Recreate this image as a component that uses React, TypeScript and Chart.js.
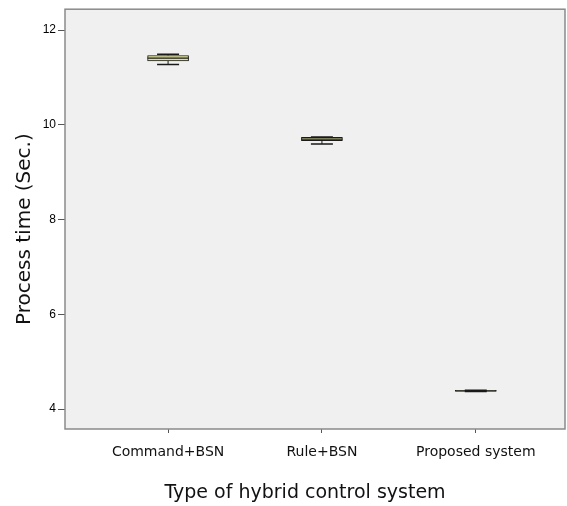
import React, { useEffect, useRef } from "react";
import { Chart, registerables } from "chart.js";

Chart.register(...registerables);

const categories = ["Command+BSN", "Rule+BSN", "Proposed system"];
const whiskerMin = [11.276, 9.595, 4.372];
const q1 = [11.35, 9.665, 4.376];
const median = [11.41, 9.7, 4.385];
const q3 = [11.465, 9.736, 4.394];
const whiskerMax = [11.49, 9.745, 4.398];
const yTicks = [4, 6, 8, 10, 12];
const xTitle = "Type of hybrid control system";
const yTitle = "Process time (Sec.)";

const FONT = "'DejaVu Sans', 'Liberation Sans', sans-serif";

const framePlugin = {
  id: "frame",
  beforeDraw(chart: any) {
    const { ctx, chartArea: a } = chart;
    ctx.save();
    ctx.fillStyle = "#ffffff";
    ctx.fillRect(0, 0, chart.width, chart.height);
    ctx.fillStyle = "#f0f0f0";
    ctx.fillRect(a.left, a.top, a.right - a.left, a.bottom - a.top);
    ctx.restore();
  },
  afterDraw(chart: any) {
    const { ctx, chartArea: a } = chart;
    ctx.save();
    ctx.strokeStyle = "#8a8a8a";
    ctx.lineWidth = 1.5;
    ctx.strokeRect(a.left, a.top, a.right - a.left, a.bottom - a.top);
    // axis titles
    ctx.fillStyle = "#111111";
    ctx.textAlign = "center";
    ctx.textBaseline = "middle";
    ctx.font = `19px ${FONT}`;
    ctx.fillText(xTitle, (a.left + a.right) / 2 - 10, chart.height - 13);
    ctx.translate(25, (a.top + a.bottom) / 2 + 10);
    ctx.rotate(-Math.PI / 2);
    ctx.font = `20px ${FONT}`;
    ctx.fillText(yTitle, 0, 0);
    ctx.restore();
  },
};

const boxPlugin = {
  id: "boxWhiskers",
  afterDatasetsDraw(chart: any) {
    const { ctx } = chart;
    const xs = chart.scales.x;
    const ys = chart.scales.y;
    const capHalf = 11;
    const boxHalf = 20.5;
    ctx.save();
    ctx.strokeStyle = "#1a1a1a";
    categories.forEach((_, i) => {
      const cx = xs.getPixelForValue(i + 1);
      const yMin = ys.getPixelForValue(whiskerMin[i]);
      const yMax = ys.getPixelForValue(whiskerMax[i]);
      const yQ1 = ys.getPixelForValue(q1[i]);
      const yQ3 = ys.getPixelForValue(q3[i]);
      const yMed = ys.getPixelForValue(median[i]);
      ctx.lineWidth = 1;
      ctx.beginPath();
      ctx.moveTo(cx, yQ1);
      ctx.lineTo(cx, yMin);
      ctx.moveTo(cx, yQ3);
      ctx.lineTo(cx, yMax);
      ctx.stroke();
      ctx.lineWidth = 1.5;
      ctx.beginPath();
      ctx.moveTo(cx - capHalf, yMin);
      ctx.lineTo(cx + capHalf, yMin);
      ctx.moveTo(cx - capHalf, yMax);
      ctx.lineTo(cx + capHalf, yMax);
      ctx.stroke();
      ctx.lineWidth = 1.2;
      ctx.beginPath();
      ctx.moveTo(cx - boxHalf, yMed);
      ctx.lineTo(cx + boxHalf, yMed);
      ctx.stroke();
    });
    ctx.restore();
  },
};

export default function App() {
  const ref = useRef<HTMLCanvasElement>(null);

  useEffect(() => {
    document.body.style.margin = "0";
    const canvas = ref.current;
    if (!canvas) return;
    const chart = new Chart(canvas, {
      type: "bar",
      data: {
        datasets: [
          {
            data: categories.map((_, i) => ({ x: i + 1, y: [q1[i], q3[i]] })) as any,
            backgroundColor: "#e0e09a",
            borderColor: "#1a1a1a",
            borderWidth: 1,
            borderSkipped: false,
            barThickness: 41,
          },
        ],
      },
      options: {
        animation: false,
        responsive: false,
        devicePixelRatio: 1,
        layout: { padding: { top: 9, right: 2, left: 0, bottom: 0 } },
        plugins: { legend: { display: false }, tooltip: { enabled: false } },
        scales: {
          x: {
            type: "linear",
            min: 0.33,
            max: 3.58,
            offset: false,
            border: { display: false },
            grid: {
              offset: false,
              drawOnChartArea: false,
              drawTicks: true,
              tickLength: 4,
              color: "#555555",
            },
            afterBuildTicks(scale: any) {
              scale.ticks = categories.map((_, i) => ({ value: i + 1 }));
            },
            afterFit(scale: any) {
              scale.height = 77;
            },
            ticks: {
              autoSkip: false,
              maxRotation: 0,
              padding: 11,
              color: "#111111",
              font: { family: FONT, size: 14 },
              callback: (v: any) => categories[Math.round(Number(v)) - 1] ?? "",
            },
            title: { display: false },
          },
          y: {
            type: "linear",
            min: 3.578,
            max: 12.443,
            border: { display: false },
            grid: {
              drawOnChartArea: false,
              drawTicks: true,
              tickLength: 7,
              color: "#555555",
            },
            afterBuildTicks(scale: any) {
              scale.ticks = yTicks.map((v) => ({ value: v }));
            },
            afterFit(scale: any) {
              scale.width = 65;
            },
            ticks: {
              padding: 2,
              color: "#000000",
              font: { family: "'Liberation Sans', Arial, sans-serif", size: 12 },
            },
            title: { display: false },
          },
        },
      },
      plugins: [framePlugin, boxPlugin],
    });
    return () => chart.destroy();
  }, []);

  return (
    <div style={{ position: "absolute", left: 0, top: 0, width: 567, height: 506 }}>
      <canvas ref={ref} width={567} height={506} />
    </div>
  );
}
